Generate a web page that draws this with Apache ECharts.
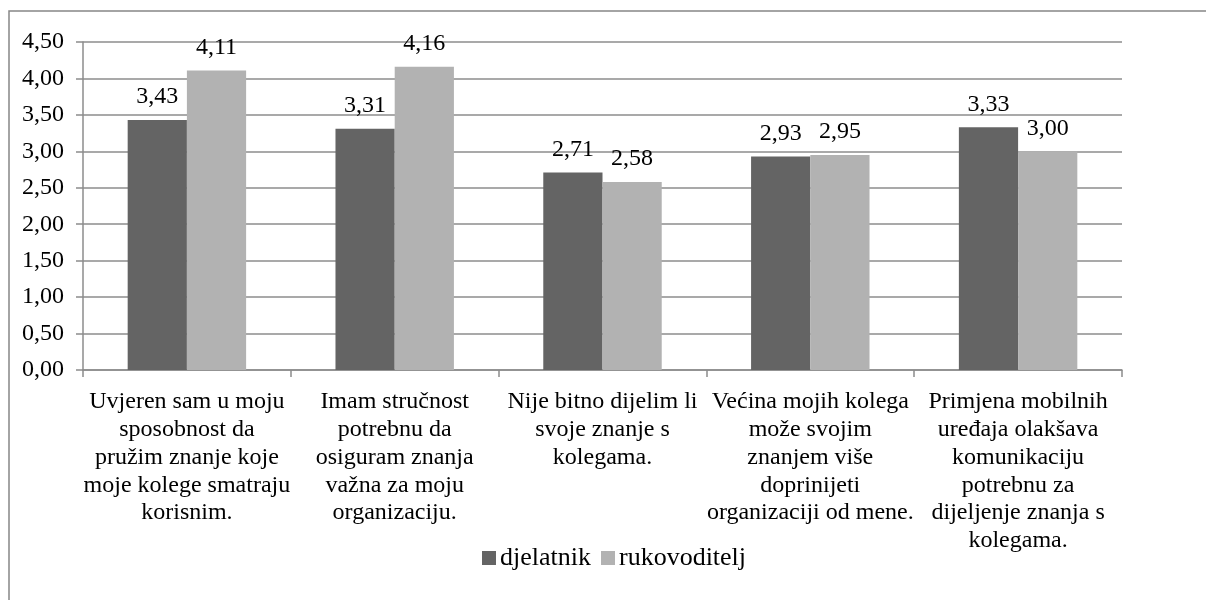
<!DOCTYPE html>
<html>
<head>
<meta charset="utf-8">
<script src="https://cdn.jsdelivr.net/npm/echarts@6/dist/echarts.min.js"></script>
<style>
  html, body { margin: 0; padding: 0; background: #ffffff; }
  #chart { width: 1206px; height: 600px; }
</style>
</head>
<body>
<div id="chart"></div>
<script>
// Survey statements (x-axis categories), wrapped as printed
const categories = [
  'Uvjeren sam u moju\nsposobnost da\npružim znanje koje\nmoje kolege smatraju\nkorisnim.',
  'Imam stručnost\npotrebnu da\nosiguram znanja\nvažna za moju\norganizaciju.',
  'Nije bitno dijelim li\nsvoje znanje s\nkolegama.',
  'Većina mojih kolega\nmože svojim\nznanjem više\ndoprinijeti\norganizaciji od mene.',
  'Primjena mobilnih\nuređaja olakšava\nkomunikaciju\npotrebnu za\ndijeljenje znanja s\nkolegama.'
];

// Mean scores per group
const djelatnik = [3.43, 3.31, 2.71, 2.93, 3.33];
const rukovoditelj = [4.11, 4.16, 2.58, 2.95, 3.00];

const seriesNames = ['djelatnik', 'rukovoditelj'];

// Value axis ticks
const yMin = 0;
const yMax = 4.5;
const yStep = 0.5;

const FONT = '"Liberation Serif", "Times New Roman", serif';
const fmt = v => Number(v).toFixed(2).replace('.', ',');

const chart = echarts.init(document.getElementById('chart'), null, { renderer: 'canvas' });

const labelStyle = {
  show: true,
  position: 'top',
  distance: 11,
  fontFamily: FONT,
  fontSize: 24,
  color: '#000',
  formatter: p => fmt(p.value)
};

chart.setOption({
  backgroundColor: '#ffffff',
  animation: false,
  graphic: [{
    type: 'rect',
    shape: { x: 9, y: 11, width: 1300, height: 700 },
    style: { fill: 'none', stroke: '#868686', lineWidth: 1.5 },
    silent: true
  }],
  legend: {
    data: seriesNames,
    left: 477,
    top: 540,
    icon: 'rect',
    itemWidth: 14,
    itemHeight: 14,
    itemGap: 10,
    textStyle: { fontFamily: FONT, fontSize: 26, color: '#000', padding: [0, 0, 0, -1] }
  },
  grid: { left: 83, right: 84, top: 42, bottom: 230, containLabel: false },
  xAxis: {
    type: 'category',
    data: categories,
    axisLine: { show: true, lineStyle: { color: '#8c8c8c', width: 1.5 } },
    axisTick: { show: true, alignWithLabel: false, length: 7, lineStyle: { color: '#8c8c8c', width: 1.5 } },
    axisLabel: {
      interval: 0,
      margin: 18,
      fontFamily: FONT,
      fontSize: 24,
      lineHeight: 27.8,
      color: '#000',
      align: 'center'
    }
  },
  yAxis: {
    type: 'value',
    min: yMin,
    max: yMax,
    interval: yStep,
    axisLine: { show: true, lineStyle: { color: '#8c8c8c', width: 1.5 } },
    axisTick: { show: true, length: 7, lineStyle: { color: '#8c8c8c', width: 1.5 } },
    splitLine: { show: true, lineStyle: { color: '#8c8c8c', width: 1.5 } },
    axisLabel: {
      margin: 19,
      fontFamily: FONT,
      fontSize: 24,
      color: '#000',
      formatter: v => fmt(v)
    }
  },
  series: [
    {
      name: seriesNames[0],
      type: 'bar',
      data: djelatnik,
      barGap: '0%',
      barCategoryGap: '43%',
      itemStyle: { color: '#646464' },
      label: labelStyle
    },
    {
      name: seriesNames[1],
      type: 'bar',
      data: rukovoditelj,
      barGap: '0%',
      barCategoryGap: '43%',
      itemStyle: { color: '#b2b2b2' },
      label: labelStyle
    }
  ]
});
</script>
</body>
</html>
